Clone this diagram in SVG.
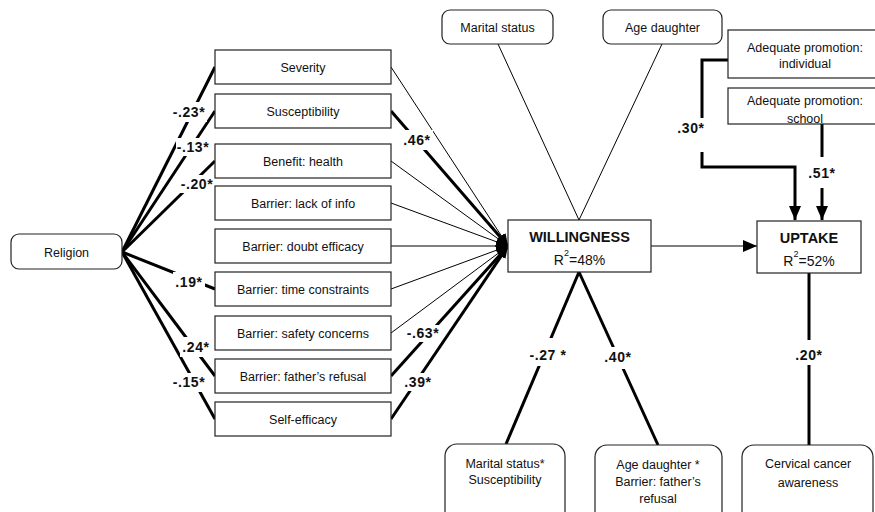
<svg xmlns="http://www.w3.org/2000/svg" width="875" height="512" viewBox="0 0 875 512">
<style>
.box{fill:#fff;stroke:#222;stroke-width:1.2}
.t{font-family:"Liberation Sans",Arial,sans-serif;font-size:12.5px;fill:#111;text-anchor:middle}
.h{font-family:"Liberation Sans",Arial,sans-serif;font-size:14.5px;font-weight:bold;fill:#111;text-anchor:middle}
.r{font-family:"Liberation Sans",Arial,sans-serif;font-size:14px;fill:#111;text-anchor:middle}
.lb{font-family:"Liberation Sans",Arial,sans-serif;font-size:14px;font-weight:bold;fill:#111;text-anchor:middle;letter-spacing:0.6px}
.thin{stroke:#000;stroke-width:1;fill:none}
.thick{stroke:#000;stroke-width:3;fill:none}
.bg{fill:#fff;stroke:none}
</style>
<defs>
<marker id="ah" markerUnits="userSpaceOnUse" markerWidth="12" markerHeight="10" refX="12" refY="5" orient="auto"><path d="M0,0 L12,5 L0,10 z" fill="#000"/></marker>
<marker id="ah2" markerUnits="userSpaceOnUse" markerWidth="14" markerHeight="12" refX="14" refY="6" orient="auto"><path d="M0,0 L14,6 L0,12 z" fill="#000"/></marker>
</defs>

<g id="connectors">
<line class="thick" x1="122" y1="252" x2="215" y2="67"/>
<line class="thick" x1="122" y1="252" x2="215" y2="111"/>
<line class="thick" x1="122" y1="252" x2="215" y2="161"/>
<line class="thick" x1="122" y1="252" x2="215" y2="289"/>
<line class="thick" x1="122" y1="252" x2="215" y2="376"/>
<line class="thick" x1="122" y1="252" x2="215" y2="419"/>
<line class="thin" x1="391" y1="67" x2="508" y2="246" marker-end="url(#ah)"/>
<line class="thick" x1="391" y1="111" x2="508" y2="246" marker-end="url(#ah)"/>
<line class="thin" x1="391" y1="161" x2="508" y2="246" marker-end="url(#ah)"/>
<line class="thin" x1="391" y1="203" x2="508" y2="246" marker-end="url(#ah)"/>
<line class="thin" x1="391" y1="246" x2="508" y2="246" marker-end="url(#ah)"/>
<line class="thin" x1="391" y1="289" x2="508" y2="246" marker-end="url(#ah)"/>
<line class="thin" x1="391" y1="333" x2="508" y2="246" marker-end="url(#ah)"/>
<line class="thick" x1="391" y1="376" x2="508" y2="246" marker-end="url(#ah)"/>
<line class="thick" x1="391" y1="419" x2="508" y2="246" marker-end="url(#ah)"/>
<line class="thin" x1="498" y1="44" x2="579" y2="220"/>
<line class="thin" x1="662" y1="44" x2="579" y2="220"/>
<line class="thin" x1="651" y1="246" x2="757" y2="246" stroke-width="1.5" marker-end="url(#ah2)"/>
<path class="thick" d="M728,60 H702 V118"/>
<path class="thick" d="M702,152 V167 H795 V220" marker-end="url(#ah2)"/>
<path class="thick" d="M822,123 V157"/>
<path class="thick" d="M822,188 V220" marker-end="url(#ah2)"/>
<line class="thick" x1="579" y1="272" x2="506" y2="444"/>
<line class="thick" x1="579" y1="272" x2="658" y2="445"/>
<line class="thick" x1="809" y1="273" x2="809" y2="445"/>
</g>

<g id="labels">
<rect class="bg" x="172" y="102" width="35" height="20"/><text class="lb" x="189" y="117">-.23*</text>
<rect class="bg" x="176" y="138" width="35" height="18"/><text class="lb" x="193" y="152">-.13*</text>
<rect class="bg" x="180" y="175" width="35" height="18"/><text class="lb" x="197" y="189">-.20*</text>
<rect class="bg" x="173" y="272" width="32" height="20"/><text class="lb" x="189" y="287">.19*</text>
<rect class="bg" x="180" y="337" width="32" height="20"/><text class="lb" x="196" y="352">.24*</text>
<rect class="bg" x="172" y="373" width="35" height="19"/><text class="lb" x="189" y="387">-.15*</text>
<rect class="bg" x="401" y="130" width="32" height="20"/><text class="lb" x="417" y="145">.46*</text>
<rect class="bg" x="405" y="325" width="36" height="17"/><text class="lb" x="423" y="338">-.63*</text>
<rect class="bg" x="402" y="373" width="32" height="18"/><text class="lb" x="418" y="387">.39*</text>
<text class="lb" x="691" y="133">.30*</text>
<text class="lb" x="822" y="178">.51*</text>
<rect class="bg" x="526" y="338" width="44" height="28"/><text class="lb" x="548" y="360">-.27 *</text>
<rect class="bg" x="601" y="347" width="34" height="22"/><text class="lb" x="618" y="362">.40*</text>
<rect class="bg" x="793" y="340" width="32" height="25"/><text class="lb" x="809" y="360">.20*</text>
</g>

<g id="religion"><rect class="box" x="11" y="234" width="111" height="35" rx="8"/><text class="t" x="66.5" y="256.5">Religion</text></g>

<g id="severity"><rect class="box" x="215" y="50" width="176" height="34"/><text class="t" x="303" y="71.5">Severity</text></g>
<g id="susceptibility"><rect class="box" x="215" y="94" width="176" height="34"/><text class="t" x="303" y="115.5">Susceptibility</text></g>
<g id="benefit"><rect class="box" x="215" y="144" width="176" height="34"/><text class="t" x="303" y="165.5">Benefit: health</text></g>
<g id="lackinfo"><rect class="box" x="215" y="186" width="176" height="34"/><text class="t" x="303" y="207.5">Barrier: lack of info</text></g>
<g id="doubt"><rect class="box" x="215" y="229" width="176" height="34"/><text class="t" x="303" y="250.5">Barrier: doubt efficacy</text></g>
<g id="time"><rect class="box" x="215" y="272" width="176" height="34"/><text class="t" x="303" y="293.5">Barrier: time constraints</text></g>
<g id="safety"><rect class="box" x="215" y="316" width="176" height="34"/><text class="t" x="303" y="337.5">Barrier: safety concerns</text></g>
<g id="father"><rect class="box" x="215" y="359" width="176" height="34"/><text class="t" x="303" y="380.5">Barrier: father’s refusal</text></g>
<g id="selfeff"><rect class="box" x="215" y="402" width="176" height="34"/><text class="t" x="303" y="423.5">Self-efficacy</text></g>

<g id="marital"><rect class="box" x="442" y="10" width="111" height="34" rx="8"/><text class="t" x="497.5" y="31.5">Marital status</text></g>
<g id="agedaughter"><rect class="box" x="603" y="10" width="119" height="34" rx="8"/><text class="t" x="662.5" y="31.5">Age daughter</text></g>

<g id="promo-individual"><rect class="box" x="728" y="30" width="152" height="48"/><text class="t" x="805" y="51.5">Adequate promotion:</text><text class="t" x="805" y="67.5">individual</text></g>
<g id="promo-school"><rect class="box" x="728" y="88" width="152" height="36"/><text class="t" x="805" y="104.5">Adequate promotion:</text><text class="t" x="805" y="123">school</text></g>

<g id="willingness"><rect class="box" x="508" y="220" width="143" height="52"/><text class="h" x="579.5" y="242">WILLINGNESS</text><text class="r" x="579.5" y="265">R<tspan font-size="9" dy="-9">2</tspan><tspan dy="9">=48%</tspan></text></g>
<g id="uptake"><rect class="box" x="757" y="221" width="104" height="52"/><text class="h" x="809" y="243">UPTAKE</text><text class="r" x="809" y="266">R<tspan font-size="9" dy="-9">2</tspan><tspan dy="9">=52%</tspan></text></g>

<g id="marital-susc"><rect class="box" x="445" y="444" width="120" height="90" rx="12"/><text class="t" x="505" y="467.5">Marital status*</text><text class="t" x="505" y="483.5">Susceptibility</text></g>
<g id="age-father"><rect class="box" x="595" y="445" width="127" height="90" rx="12"/><text class="t" x="658" y="468.5">Age daughter *</text><text class="t" x="658" y="486">Barrier: father’s</text><text class="t" x="658" y="502.5">refusal</text></g>
<g id="awareness"><rect class="box" x="742" y="445" width="131" height="90" rx="12"/><text class="t" x="808" y="467.5">Cervical cancer</text><text class="t" x="808" y="486.5">awareness</text></g>
</svg>
